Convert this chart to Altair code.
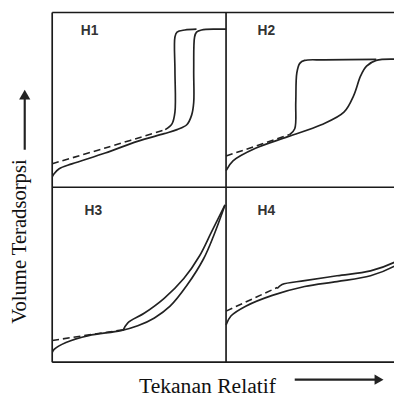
import altair as alt
import pandas as pd

# ---- panels ----
panels = ["H1", "H2", "H3", "H4"]
panel_col = [0, 1, 0, 1]
panel_row = [1, 1, 0, 0]
label_u = [0.215, 0.232, 0.237, 0.232]
label_v = [0.894, 0.894, 0.865, 0.865]

# ---- curves (u, v within each panel, 0..1) ----
h1_ads_u = [0.0, 0.011, 0.04, 0.113, 0.305, 0.49, 0.644, 0.718, 0.774, 0.802, 0.814, 0.814, 0.819, 0.83, 0.859, 0.944, 1.0]
h1_ads_v = [0.06, 0.078, 0.106, 0.134, 0.196, 0.263, 0.307, 0.33, 0.358, 0.413, 0.486, 0.67, 0.86, 0.888, 0.9, 0.905, 0.905]
h1_des_u = [0.65, 0.689, 0.706, 0.706, 0.706, 0.718, 0.763, 0.83]
h1_des_v = [0.33, 0.363, 0.43, 0.67, 0.86, 0.888, 0.9, 0.905]
h1_dash_u = [0.0, 0.305, 0.65]
h1_dash_v = [0.135, 0.225, 0.33]

h2_ads_u = [0.0, 0.04, 0.169, 0.356, 0.548, 0.678, 0.734, 0.774, 0.808, 0.864, 1.0]
h2_ads_v = [0.095, 0.151, 0.223, 0.29, 0.358, 0.43, 0.525, 0.637, 0.693, 0.726, 0.732]
h2_des_u = [0.367, 0.395, 0.401, 0.407, 0.424, 0.452, 0.565, 0.864]
h2_des_v = [0.302, 0.335, 0.486, 0.654, 0.709, 0.726, 0.729, 0.732]
h2_dash_u = [0.0, 0.367]
h2_dash_v = [0.179, 0.302]

h3_ads_u = [0.0, 0.011, 0.079, 0.209, 0.395, 0.492, 0.588, 0.678, 0.774, 0.87, 0.927, 0.994]
h3_ads_v = [0.055, 0.073, 0.112, 0.152, 0.18, 0.208, 0.253, 0.32, 0.438, 0.59, 0.719, 0.899]
h3_des_u = [0.407, 0.435, 0.531, 0.644, 0.757, 0.847, 0.915, 0.994]
h3_des_v = [0.18, 0.225, 0.281, 0.365, 0.478, 0.607, 0.742, 0.899]
h3_dash_u = [0.0, 0.407]
h3_dash_v = [0.124, 0.185]

h4_ads_u = [0.0, 0.028, 0.113, 0.266, 0.452, 0.638, 0.831, 0.972, 1.0]
h4_ads_v = [0.213, 0.264, 0.32, 0.382, 0.433, 0.461, 0.494, 0.551, 0.57]
h4_des_u = [0.294, 0.322, 0.452, 0.638, 0.831, 0.972, 1.0]
h4_des_v = [0.421, 0.444, 0.466, 0.494, 0.522, 0.573, 0.59]
h4_dash_u = [0.0, 0.294]
h4_dash_v = [0.292, 0.427]

curves = [
    ("H1", "ads", "solid", h1_ads_u, h1_ads_v),
    ("H1", "des", "solid", h1_des_u, h1_des_v),
    ("H1", "dash", "dash", h1_dash_u, h1_dash_v),
    ("H2", "ads", "solid", h2_ads_u, h2_ads_v),
    ("H2", "des", "solid", h2_des_u, h2_des_v),
    ("H2", "dash", "dash", h2_dash_u, h2_dash_v),
    ("H3", "ads", "solid", h3_ads_u, h3_ads_v),
    ("H3", "des", "solid", h3_des_u, h3_des_v),
    ("H3", "dash", "dash", h3_dash_u, h3_dash_v),
    ("H4", "ads", "solid", h4_ads_u, h4_ads_v),
    ("H4", "des", "solid", h4_des_u, h4_des_v),
    ("H4", "dash", "dash", h4_dash_u, h4_dash_v),
]

# ---- frame dividers & axis labels ----
vlines_x = [0, 1]
hlines_y = [0, 1, 2]
x_title = "Tekanan Relatif"
y_title = "Volume Teradsorpsi"
x_title_pos = (0.893, -0.175)
y_title_pos = (-0.182, 0.69)
x_arrow = (1.395, 1.88, -0.1)
y_arrow = (-0.158, 1.215, 1.53)

X_MAX = 1.966
rows = []
for panel, branch, style, us, vs in curves:
    i = panels.index(panel)
    for k, (u, v) in enumerate(zip(us, vs)):
        rows.append(dict(cid=panel + branch, style=style, seq=k,
                         x=u + panel_col[i], y=v + panel_row[i]))
df = pd.DataFrame(rows)

xs = alt.Scale(domain=[0, X_MAX], nice=False, zero=False)
ys = alt.Scale(domain=[0, 2], nice=False, zero=False)
INK = "#222222"


def X(f):
    return alt.X(f, type="quantitative", scale=xs, axis=None)


def Y(f):
    return alt.Y(f, type="quantitative", scale=ys, axis=None)


solid = alt.Chart(df[df["style"] == "solid"].reset_index(drop=True)).mark_line(
    color=INK, strokeWidth=1.7, interpolate="catmull-rom", clip=True
).encode(x=X("x"), y=Y("y"), detail="cid:N", order="seq:Q")
dashed = alt.Chart(df[df["style"] == "dash"].reset_index(drop=True)).mark_line(
    color=INK, strokeWidth=1.6, strokeDash=[7, 4], interpolate="catmull-rom", clip=True
).encode(x=X("x"), y=Y("y"), detail="cid:N", order="seq:Q")

vdf = pd.DataFrame({"x": vlines_x, "y0": [0] * len(vlines_x), "y1": [2] * len(vlines_x)})
hdf = pd.DataFrame({"y": hlines_y, "x0": [0] * len(hlines_y), "x1": [X_MAX] * len(hlines_y)})
vrules = alt.Chart(vdf).mark_rule(color="#1a1a1a", strokeWidth=1.7).encode(
    x=X("x"), y=Y("y0"), y2="y1")
hrules = alt.Chart(hdf).mark_rule(color="#1a1a1a", strokeWidth=1.6).encode(
    y=Y("y"), x=X("x0"), x2="x1")

ldf = pd.DataFrame({
    "t": panels,
    "x": [u + c for u, c in zip(label_u, panel_col)],
    "y": [v + r for v, r in zip(label_v, panel_row)],
})
labels = alt.Chart(ldf).mark_text(
    font="Liberation Sans", fontWeight="bold", fontSize=14, color="#333333"
).encode(x=X("x"), y=Y("y"), text="t:N")

xt = alt.Chart(pd.DataFrame({"t": [x_title], "x": [x_title_pos[0]], "y": [x_title_pos[1]]})).mark_text(
    font="Liberation Serif", fontSize=22, color="#111111", baseline="alphabetic"
).encode(x=X("x"), y=Y("y"), text="t:N")
yt = alt.Chart(pd.DataFrame({"t": [y_title], "x": [y_title_pos[0]], "y": [y_title_pos[1]]})).mark_text(
    font="Liberation Serif", fontSize=21, color="#111111", angle=270, baseline="middle"
).encode(x=X("x"), y=Y("y"), text="t:N")

xa = alt.Chart(pd.DataFrame({"x0": [x_arrow[0]], "x1": [x_arrow[1]], "y": [x_arrow[2]]})).mark_rule(
    color="#222222", strokeWidth=2.2
).encode(x=X("x0"), x2="x1", y=Y("y"))
xah = alt.Chart(pd.DataFrame({"x": [x_arrow[1]], "y": [x_arrow[2]]})).mark_point(
    shape="triangle-right", filled=True, size=110, color="#222222", opacity=1
).encode(x=X("x"), y=Y("y"))
ya = alt.Chart(pd.DataFrame({"x": [y_arrow[0]], "y0": [y_arrow[1]], "y1": [y_arrow[2]]})).mark_rule(
    color="#222222", strokeWidth=2.2
).encode(x=X("x"), y=Y("y0"), y2="y1")
yah = alt.Chart(pd.DataFrame({"x": [y_arrow[0]], "y": [y_arrow[2]]})).mark_point(
    shape="triangle-up", filled=True, size=130, color="#222222", opacity=1
).encode(x=X("x"), y=Y("y"))

chart = alt.layer(
    hrules, vrules, dashed, solid, labels, xt, yt, xa, xah, ya, yah
).properties(
    width=348, height=356,
    padding={"left": 45, "top": 1, "right": 0, "bottom": 38},
    autosize="none",
    background="white",
).configure_view(strokeWidth=0)

chart.save("out.html", embed_options={"renderer": "svg", "actions": False})
